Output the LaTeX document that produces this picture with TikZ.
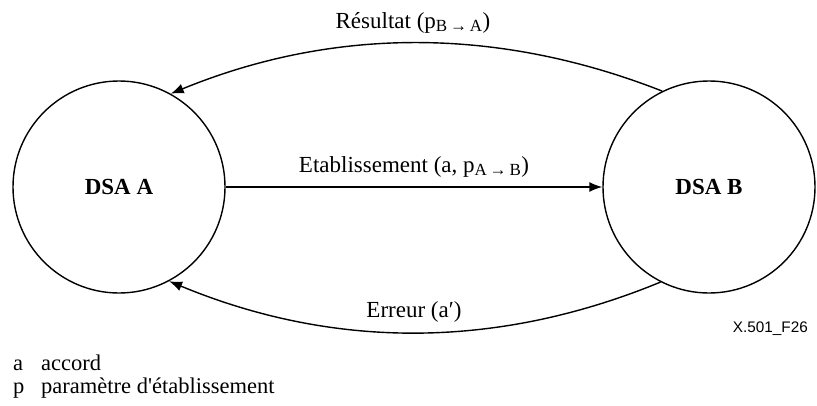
\documentclass[tikz,border=0pt]{standalone}
\usepackage{fontspec}
\setmainfont{Liberation Serif}
\newfontfamily\arialfont{Liberation Sans}
\usetikzlibrary{arrows.meta}
\tikzset{
  dsa/.style={circle,draw,line width=1.4pt,minimum size=212pt,inner sep=0pt,font=\fontsize{23}{26}\selectfont\bfseries},
  conn/.style={line width=1.4pt,-{Latex[length=13pt,width=10pt]}},
  lbl/.style={font=\fontsize{23}{26}\selectfont,inner sep=0pt},
  leg/.style={font=\fontsize{22.5}{26}\selectfont,inner sep=0pt,anchor=base west}
}
\newcommand{\sbs}[1]{\textsubscript{\fontsize{17}{18}\selectfont #1}}
\begin{document}
\begin{tikzpicture}[x=1pt,y=1pt]
\useasboundingbox (0,0) rectangle (817,-405);
\node[dsa] (A) at (119,-187) {DSA A};
\node[dsa] (B) at (709,-187) {DSA B};
\draw[conn] (A.east) -- (B.west);
\draw[conn] (B.116.3) .. controls (498,-26.7) and (334,-26.7) .. (A.61.8);
\draw[conn] (B.243.9) .. controls (498,-349) and (335,-350) .. (A.298.4);
\node[lbl,anchor=base] (res) at (413,-28) {Résultat (p\sbs{B\,→\,A})};
\node[lbl,anchor=base] (eta) at (414,-172) {Etablissement (a, p\sbs{A\,→\,B})};
\node[lbl,anchor=base] (err) at (414,-317) {Erreur (a′)};
\node[font=\arialfont\fontsize{15.3}{17}\selectfont,anchor=base east,inner sep=0pt] (fig) at (808,-332) {X.501\_F26};
\node[leg] (la) at (13,-370) {a};
\node[leg] (lat) at (41,-370) {accord};
\node[leg] (lp) at (13,-393) {p};
\node[leg] (lpt) at (41,-393) {paramètre d\textquotesingle établissement};
\end{tikzpicture}
\end{document}
